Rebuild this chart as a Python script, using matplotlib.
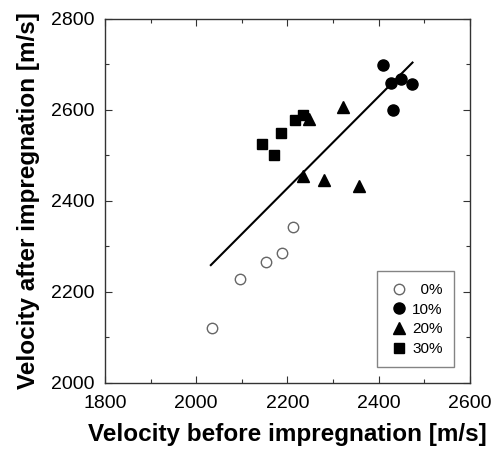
import matplotlib.pyplot as plt
from matplotlib.ticker import MultipleLocator

plt.rcParams['font.family'] = ['Liberation Sans', 'DejaVu Sans']

# --- data ---
x_0 = [2034, 2096, 2152, 2189, 2212]
y_0 = [2120, 2228, 2265, 2286, 2343]

x_10 = [2409, 2427, 2449, 2474, 2432]
y_10 = [2698, 2658, 2667, 2656, 2600]

x_20 = [2322, 2248, 2235, 2280, 2357]
y_20 = [2607, 2581, 2455, 2446, 2433]

x_30 = [2145, 2170, 2185, 2217, 2235]
y_30 = [2525, 2500, 2549, 2578, 2588]

fit_x = [2032, 2474]
fit_y = [2259, 2704]

labels = ['  0%', '10%', '20%', '30%']

fig = plt.figure(figsize=(4.91, 4.49), dpi=100)
ax = fig.add_axes([0.2138, 0.147, 0.7434, 0.811])

ax.plot(fit_x, fit_y, color='black', lw=1.5, zorder=2)

ax.plot(x_0, y_0, 'o', ms=7.5, mfc='white', mec='#666666', mew=1.0, label=labels[0], zorder=3)
ax.plot(x_10, y_10, 'o', ms=8, color='black', label=labels[1], zorder=3)
ax.plot(x_20, y_20, '^', ms=8, color='black', label=labels[2], zorder=3)
ax.plot(x_30, y_30, 's', ms=7.5, color='black', label=labels[3], zorder=3)

ax.set_xlim(1800, 2600)
ax.set_ylim(2000, 2800)
ax.xaxis.set_major_locator(MultipleLocator(200))
ax.xaxis.set_minor_locator(MultipleLocator(100))
ax.yaxis.set_major_locator(MultipleLocator(200))
ax.yaxis.set_minor_locator(MultipleLocator(100))
ax.tick_params(which='both', direction='in', top=True, right=True,
               width=0.8, colors='#333333', labelcolor='black', labelsize=14)
ax.tick_params(which='major', length=5)
ax.tick_params(which='minor', length=3)
ax.tick_params(axis='x', which='major', pad=9)
ax.tick_params(axis='y', which='major', pad=7.5)
for s in ax.spines.values():
    s.set_color('#333333')
    s.set_linewidth(1.0)

ax.set_xlabel('Velocity before impregnation [m/s]', fontsize=17.5, fontweight='bold', labelpad=7.5)
ax.set_ylabel('Velocity after impregnation [m/s]', fontsize=17.5, fontweight='bold', labelpad=8)

leg = ax.legend(loc='lower right', bbox_to_anchor=(0.957, 0.043), fontsize=11,
                frameon=True, fancybox=False, edgecolor='#666666',
                handletextpad=0.25, labelspacing=0.37, borderpad=0.75,
                handlelength=1.3, borderaxespad=0)
leg.get_frame().set_linewidth(1.0)

fig.savefig('out.png', dpi=100)
